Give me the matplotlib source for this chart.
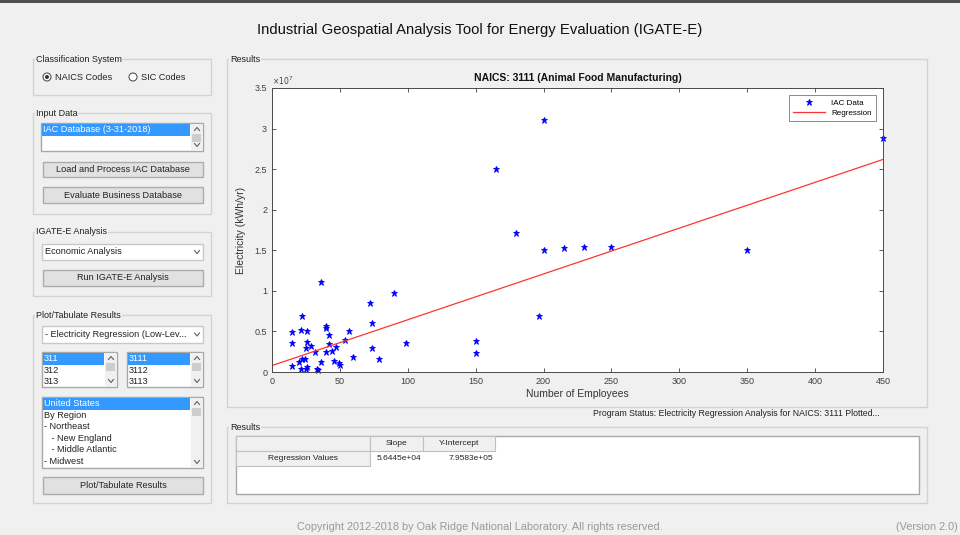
import numpy as np
import matplotlib
matplotlib.use("Agg")
import matplotlib.pyplot as plt
from matplotlib.patches import Rectangle, Circle
from matplotlib.ticker import FuncFormatter

plt.rcParams['font.family'] = ['Liberation Sans', 'DejaVu Sans']

# IAC records for NAICS 3111
employees = [200, 165, 180, 200, 215, 230, 250, 350, 450, 197,
             150, 150, 99, 90, 72, 74, 74, 79, 60, 57,
             54, 36, 22, 15, 15, 15, 21, 26, 26, 25,
             29, 32, 22, 24, 20, 21, 26, 25, 33, 34,
             36, 40, 40, 40, 42, 42, 44, 47, 46, 49, 50]
electricity_e7 = [3.11, 2.50, 1.71, 1.50, 1.53, 1.545, 1.545, 1.50, 2.88, 0.69,
                  0.38, 0.23, 0.36, 0.975, 0.85, 0.60, 0.30, 0.16, 0.18, 0.51,
                  0.40, 1.11, 0.69, 0.49, 0.36, 0.07, 0.52, 0.50, 0.37, 0.29,
                  0.32, 0.25, 0.16, 0.16, 0.12, 0.04, 0.06, 0.04, 0.04, 0.02,
                  0.12, 0.57, 0.54, 0.25, 0.45, 0.34, 0.26, 0.31, 0.14, 0.11, 0.09]
electricity = np.array(electricity_e7) * 1e7

slope = 5.6445e4
intercept = 7.9583e5
x_ticks = [0, 50, 100, 150, 200, 250, 300, 350, 400, 450]
y_ticks = [0, 0.5e7, 1e7, 1.5e7, 2e7, 2.5e7, 3e7, 3.5e7]

naics3 = ["311", "312", "313"]
naics4 = ["3111", "3112", "3113"]
regions = ["United States", "By Region", "- Northeast", "   - New England",
           "   - Middle Atlantic", "- Midwest"]

BG = '#f0f0f0'
TXT = '#222222'

fig = plt.figure(figsize=(9.6, 5.35), dpi=100, facecolor=BG)

# background layer in pixel coordinates
bg = fig.add_axes([0, 0, 1, 1])
bg.set_xlim(0, 960)
bg.set_ylim(535, 0)
bg.axis('off')
bg.set_zorder(0)

bg.add_patch(Rectangle((0, 0), 960, 3, fc='#505050', ec='none'))


def panel(x0, y0, x1, y1, label):
    bg.add_patch(Rectangle((x0, y0), x1 - x0, y1 - y0, fill=False, ec='#d2d2d2', lw=1))
    bg.text(x0 + 3, y0, label, fontsize=6.5, color=TXT, va='center', ha='left',
            bbox=dict(fc=BG, ec='none', pad=0.6))


def button(x0, y0, x1, y1, label):
    bg.add_patch(Rectangle((x0, y0), x1 - x0, y1 - y0, fc='#e1e1e1', ec='#adadad', lw=1))
    bg.text((x0 + x1) / 2, (y0 + y1) / 2, label, fontsize=6.6, color=TXT,
            va='center', ha='center')


def chevron(x, y, up=True):
    d = -1.5 if up else 1.5
    bg.plot([x - 2.5, x, x + 2.5], [y - d, y + d, y - d], color='#606060', lw=0.8)


def dropdown(x0, y0, x1, y1, label):
    bg.add_patch(Rectangle((x0, y0), x1 - x0, y1 - y0, fc='white', ec='#c8c8c8', lw=1))
    bg.text(x0 + 3, (y0 + y1) / 2, label, fontsize=6.6, color=TXT, va='center')
    chevron(x1 - 6, (y0 + y1) / 2, up=False)


def listbox(x0, y0, x1, y1, items, row_h=11.5):
    bg.add_patch(Rectangle((x0, y0), x1 - x0, y1 - y0, fc='white', ec='#a8a8a8', lw=1))
    bg.add_patch(Rectangle((x1 - 12, y0 + 1), 11, y1 - y0 - 2, fc='#f0f0f0', ec='none'))
    chevron(x1 - 6, y0 + 6, up=True)
    chevron(x1 - 6, y1 - 6, up=False)
    bg.add_patch(Rectangle((x1 - 11, y0 + 11), 9, 8, fc='#cdcdcd', ec='none'))
    for i, item in enumerate(items):
        yy = y0 + 1 + i * row_h
        if i == 0:
            bg.add_patch(Rectangle((x0 + 1, yy), x1 - x0 - 14, row_h, fc='#3399ff', ec='none'))
        bg.text(x0 + 2, yy + row_h / 2, item, fontsize=6.6, va='center',
                color='white' if i == 0 else TXT)


# title
bg.text(480, 30, "Industrial Geospatial Analysis Tool for Energy Evaluation (IGATE-E)",
        fontsize=10.7, color='#111111', ha='center', va='center')

# classification panel
panel(33, 59, 211, 95, "Classification System")
bg.add_patch(Circle((47, 77), 4, fc='white', ec='#555555', lw=0.8))
bg.add_patch(Circle((47, 77), 2, fc='#333333', ec='none'))
bg.text(55, 77, "NAICS Codes", fontsize=6.6, color=TXT, va='center')
bg.add_patch(Circle((133, 77), 4, fc='white', ec='#555555', lw=0.8))
bg.text(141, 77, "SIC Codes", fontsize=6.6, color=TXT, va='center')

# input data panel
panel(33, 113, 211, 214, "Input Data")
listbox(41, 123, 203, 151, ["IAC Database (3-31-2018)"], row_h=12)
button(43, 162, 203, 177, "Load and Process IAC Database")
button(43, 187, 203, 203, "Evaluate Business Database")

# analysis panel
panel(33, 232, 211, 296, "IGATE-E Analysis")
dropdown(42, 244, 203, 260, "Economic Analysis")
button(43, 270, 203, 286, "Run IGATE-E Analysis")

# plot/tabulate panel
panel(33, 315, 211, 503, "Plot/Tabulate Results")
dropdown(42, 326, 203, 343, "- Electricity Regression (Low-Lev...")
listbox(42, 352, 117, 387, naics3)
listbox(127, 352, 203, 387, naics4)
listbox(42, 397, 203, 468, regions, row_h=11.5)
button(43, 477, 203, 494, "Plot/Tabulate Results")

# results panels
panel(227, 59, 927, 407, "Results")
bg.text(880, 414, "Program Status: Electricity Regression Analysis for NAICS: 3111 Plotted...",
        fontsize=6.3, color=TXT, ha='right', va='center')
panel(227, 427, 927, 503, "Results")

# regression table
bg.add_patch(Rectangle((236, 436), 683, 58, fc='white', ec='#a8a8a8', lw=1))
cols = [236, 370, 423, 495]
bg.add_patch(Rectangle((cols[0], 436), cols[1] - cols[0], 15, fc=BG, ec='#c0c0c0', lw=0.8))
bg.add_patch(Rectangle((cols[0], 451), cols[1] - cols[0], 15, fc=BG, ec='#c0c0c0', lw=0.8))
for c0, c1, head in [(cols[1], cols[2], "Slope"), (cols[2], cols[3], "Y-Intercept")]:
    bg.add_patch(Rectangle((c0, 436), c1 - c0, 15, fc=BG, ec='#c0c0c0', lw=0.8))
    bg.text((c0 + c1) / 2, 443.5, head, fontsize=6, color=TXT, ha='center', va='center')
bg.text((cols[0] + cols[1]) / 2, 458.5, "Regression Values", fontsize=6, color=TXT,
        ha='center', va='center')
bg.text(cols[2] - 2, 458.5, f"{slope:.4e}", fontsize=6, color=TXT, ha='right', va='center')
bg.text(cols[3] - 2, 458.5, f"{intercept:.4e}", fontsize=6, color=TXT, ha='right', va='center')

# footer
bg.text(480, 527, "Copyright 2012-2018 by Oak Ridge National Laboratory. All rights reserved.",
        fontsize=7.8, color='#999999', ha='center', va='center')
bg.text(958, 527, "(Version 2.0)", fontsize=7.8, color='#999999', ha='right', va='center')

# scatter plot with regression line
ax = fig.add_axes([272 / 960, (535 - 372) / 535, 611 / 960, 284 / 535])
ax.set_zorder(2)
ax.set_facecolor('white')
ax.plot(employees, electricity, '*', color='#0000ff', markersize=4.6, markeredgewidth=0.6,
        label='IAC Data', clip_on=False)
xr = np.array([0, 450])
ax.plot(xr, slope * xr + intercept, color='#ff3333', lw=0.9, label='Regression')
ax.set_xlim(0, 450)
ax.set_ylim(0, 3.5e7)
ax.set_xticks(x_ticks)
ax.set_yticks(y_ticks)
ax.yaxis.set_major_formatter(FuncFormatter(lambda v, p: f"{v / 1e7:g}"))
ax.tick_params(direction='in', top=True, right=True, labelsize=6.5, colors='#404040',
               length=3, width=0.6)
for s in ax.spines.values():
    s.set_color('#4a4a4a')
    s.set_linewidth(0.7)
ax.set_xlabel("Number of Employees", fontsize=7.5, color='#333333', labelpad=2)
ax.set_ylabel("Electricity (kWh/yr)", fontsize=7.5, color='#333333', labelpad=6)
ax.set_title("NAICS: 3111 (Animal Food Manufacturing)", fontsize=7.5, fontweight='bold',
             color='#111111', pad=5)
ax.text(0, 1.005, r"$\times10^{7}$", transform=ax.transAxes, fontsize=5.5,
        color='#404040', ha='left', va='bottom')
leg = ax.legend(loc='upper right', fontsize=5.8, frameon=True, fancybox=False,
                borderpad=0.5, handlelength=4, borderaxespad=0.9, labelspacing=0.3)
leg.get_frame().set_edgecolor('#555555')
leg.get_frame().set_linewidth(0.6)

fig.savefig("out.png", dpi=100, facecolor=BG)
